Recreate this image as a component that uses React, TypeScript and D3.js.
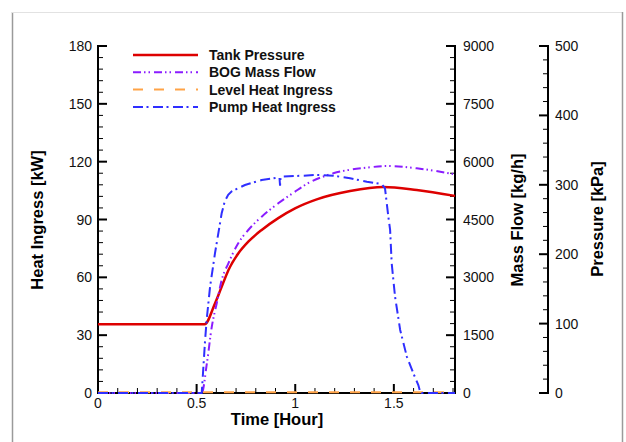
import { useEffect, useRef } from 'react';
import * as d3 from 'd3';

// Tank pressure [kPa] vs time [h]
const pressureTime = [0, 0.54, 0.593, 0.627, 0.661, 0.711, 0.762, 0.83, 0.914, 0.999, 1.109, 1.278, 1.447, 1.616, 1.81];
const pressureKPa = [99, 99, 129, 153, 177, 201, 218, 235, 252, 266, 279, 291, 297, 292.5, 284];

// BOG mass flow [kg/h]
const bogTime = [0, 0.526, 0.552, 0.577, 0.602, 0.627, 0.661, 0.711, 0.762, 0.83, 0.914, 0.999, 1.05, 1.193, 1.363, 1.464, 1.616, 1.81];
const bogFlow = [0, 0, 770, 1720, 2327, 2931, 3364, 3883, 4228, 4573, 4920, 5221, 5395, 5698, 5844, 5888, 5828, 5672];

// Level heat ingress [kW]
const levelTime = [0, 1.81];
const levelHeat = [0.4, 0.4];

// Pump heat ingress [kW]
const pumpTime = [0, 0.526, 0.543, 0.551, 0.568, 0.593, 0.627, 0.643, 0.66, 0.678, 0.745, 0.83, 0.92, 0.923, 0.926, 1.033, 1.109, 1.193, 1.278, 1.363, 1.438, 1.455, 1.472, 1.481, 1.489, 1.506, 1.532, 1.566, 1.599, 1.624, 1.633, 1.64, 1.81];
const pumpHeat = [0, 0, 27.5, 38, 55, 72.4, 93.2, 99.5, 102.8, 104.6, 107.9, 110.5, 111.8, 107.5, 112.2, 112.7, 113.1, 112.7, 111.4, 109.6, 108.4, 106.2, 91.5, 84.6, 67.3, 50, 32.7, 18.8, 10.2, 4.1, 0.7, 0, 0];

const heatTicks = [0, 30, 60, 90, 120, 150, 180];
const flowTicks = [0, 1500, 3000, 4500, 6000, 7500, 9000];
const pressTicks = [0, 100, 200, 300, 400, 500];
const timeTicks = [0, 0.5, 1, 1.5];

const FONT = 'Liberation Sans, Arial, sans-serif';

export default function App() {
  const svgRef = useRef<SVGSVGElement>(null);

  useEffect(() => {
    const W = 626, H = 442;
    const L = 98, R = 455, B = 393, T = 46;
    const PX = 548;

    const svg = d3.select(svgRef.current);
    svg.selectAll('*').remove();
    svg.attr('width', W).attr('height', H);

    svg.append('rect').attr('width', W).attr('height', H).attr('fill', '#fff');

    // outer frame
    svg.append('line').attr('x1', 12.5).attr('y1', 12).attr('x2', 12.5).attr('y2', H).attr('stroke', '#9a9a9a').attr('stroke-width', 1.5);
    svg.append('line').attr('x1', 12).attr('y1', 12.5).attr('x2', 623).attr('y2', 12.5).attr('stroke', '#e2e2e2');
    svg.append('line').attr('x1', 622.5).attr('y1', 12).attr('x2', 622.5).attr('y2', H).attr('stroke', '#9a9a9a').attr('stroke-width', 1.5);

    const x = d3.scaleLinear().domain([0, 1.81]).range([L, R]);
    const yHeat = d3.scaleLinear().domain([0, 180]).range([B, T]);
    const yFlow = d3.scaleLinear().domain([0, 9000]).range([B, T]);
    const yPress = d3.scaleLinear().domain([0, 500]).range([B, T]);

    const axes = svg.append('g').attr('stroke', '#000');

    // left axis
    axes.append('line').attr('x1', L).attr('x2', L).attr('y1', T - 1).attr('y2', B + 1).attr('stroke-width', 2);
    d3.range(0, 181, 6).forEach(v => {
      const major = v % 30 === 0;
      axes.append('line').attr('x1', L).attr('x2', L + (major ? 9 : 5))
        .attr('y1', yHeat(v)).attr('y2', yHeat(v)).attr('stroke-width', major ? 2 : 1);
    });
    svg.append('g').selectAll('text').data(heatTicks).join('text')
      .attr('x', L - 6).attr('y', d => yHeat(d)).attr('dy', '0.36em')
      .attr('text-anchor', 'end').attr('font-size', 14).attr('font-family', FONT).attr('fill', '#111')
      .text(d => d);

    // bottom axis
    axes.append('line').attr('x1', L - 1).attr('x2', R + 1).attr('y1', B).attr('y2', B).attr('stroke-width', 2);
    d3.range(0, 19).map(i => i / 10).forEach(v => {
      const major = Math.abs(v * 2 - Math.round(v * 2)) < 1e-6;
      axes.append('line').attr('x1', x(v)).attr('x2', x(v))
        .attr('y1', B).attr('y2', B - (major ? 9 : 5)).attr('stroke-width', major ? 2 : 1);
    });
    svg.append('g').selectAll('text').data(timeTicks).join('text')
      .attr('x', d => x(d)).attr('y', B + 15)
      .attr('text-anchor', 'middle').attr('font-size', 14).attr('font-family', FONT).attr('fill', '#111')
      .text(d => d);

    // mass flow axis
    axes.append('line').attr('x1', R).attr('x2', R).attr('y1', T - 1).attr('y2', B + 1).attr('stroke-width', 2);
    d3.range(0, 9001, 300).forEach(v => {
      const major = v % 1500 === 0;
      axes.append('line').attr('x1', R).attr('x2', R - (major ? 9 : 5))
        .attr('y1', yFlow(v)).attr('y2', yFlow(v)).attr('stroke-width', major ? 2 : 1);
    });
    svg.append('g').selectAll('text').data(flowTicks).join('text')
      .attr('x', R + 8).attr('y', d => yFlow(d)).attr('dy', '0.36em')
      .attr('font-size', 14).attr('font-family', FONT).attr('fill', '#111')
      .text(d => d);

    // pressure axis
    axes.append('line').attr('x1', PX).attr('x2', PX).attr('y1', T - 1).attr('y2', B + 1).attr('stroke-width', 2);
    d3.range(0, 501, 20).forEach(v => {
      const major = v % 100 === 0;
      axes.append('line').attr('x1', PX).attr('x2', PX - (major ? 9 : 5))
        .attr('y1', yPress(v)).attr('y2', yPress(v)).attr('stroke-width', major ? 2 : 1);
    });
    svg.append('g').selectAll('text').data(pressTicks).join('text')
      .attr('x', PX + 7).attr('y', d => yPress(d)).attr('dy', '0.36em')
      .attr('font-size', 14).attr('font-family', FONT).attr('fill', '#111')
      .text(d => d);

    // axis titles
    const title = (tx: number, ty: number, rot: number, s: string) =>
      svg.append('text').attr('transform', `translate(${tx},${ty}) rotate(${rot})`)
        .attr('text-anchor', 'middle').attr('font-size', 16.5).attr('font-weight', 700)
        .attr('font-family', FONT).attr('fill', '#000').text(s);
    title(43, 220, -90, 'Heat Ingress [kW]');
    title(277, 425, 0, 'Time [Hour]');
    title(523, 220, -90, 'Mass Flow [kg/h]');
    title(603, 219, -90, 'Pressure [kPa]');

    // series
    const series = [
      { name: 'Tank Pressure', t: pressureTime, v: pressureKPa, y: yPress, color: '#dd0000', dash: null, w: 2.5, curve: d3.curveMonotoneX },
      { name: 'BOG Mass Flow', t: bogTime, v: bogFlow, y: yFlow, color: '#8a1cff', dash: '8,3,1.5,3,1.5,4', w: 2, curve: d3.curveMonotoneX },
      { name: 'Level Heat Ingress', t: levelTime, v: levelHeat, y: yHeat, color: '#ffa347', dash: '10,11', w: 2, curve: d3.curveLinear },
      { name: 'Pump Heat Ingress', t: pumpTime, v: pumpHeat, y: yHeat, color: '#2f2fff', dash: '10,3.5,2,4.5', w: 2, curve: d3.curveLinear },
    ];

    series.forEach(s => {
      const pts = s.t.map((t, i) => [t, s.v[i]] as [number, number]);
      const line = d3.line<[number, number]>().x(d => x(d[0])).y(d => s.y(d[1])).curve(s.curve);
      svg.append('path').attr('d', line(pts)).attr('fill', 'none')
        .attr('stroke', s.color).attr('stroke-width', s.w)
        .attr('stroke-dasharray', s.dash);
    });

    // legend
    const lg = svg.append('g');
    series.forEach((s, i) => {
      const ly = 55 + i * 17.3;
      lg.append('line').attr('x1', 133).attr('x2', 198).attr('y1', ly).attr('y2', ly)
        .attr('stroke', s.color).attr('stroke-width', s.w).attr('stroke-dasharray', s.dash);
      lg.append('text').attr('x', 209).attr('y', ly + 5)
        .attr('font-size', 14).attr('font-weight', 700).attr('font-family', FONT).attr('fill', '#111')
        .text(s.name);
    });
  }, []);

  return (
    <svg ref={svgRef} style={{ position: 'absolute', left: 0, top: 0, display: 'block' }} />
  );
}
